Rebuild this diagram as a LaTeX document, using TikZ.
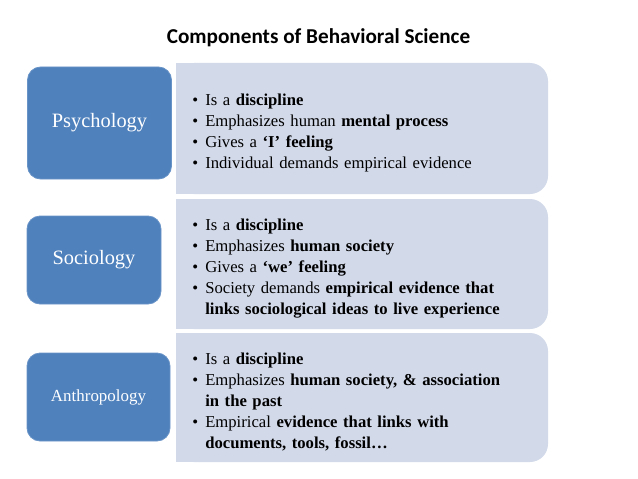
\documentclass[tikz,border=0pt]{standalone}
\usepackage{fontspec}
\setmainfont{Liberation Serif}
\newfontfamily\titlefont{Carlito}
\definecolor{fieldblue}{RGB}{79,129,189}
\definecolor{panelfill}{RGB}{210,217,233}
\tikzset{
  fieldbox/.style={fill=fieldblue, draw=fieldblue!85!white, line width=0.6pt,
    rounded corners=9.75pt, text=white, inner sep=0pt, align=center},
  panel/.style={fill=panelfill},
  pointlist/.style={anchor=west, inner sep=0pt, text width=255pt,
    font=\fontsize{12.5pt}{15.75pt}\selectfont}
}
\newcommand{\bitem}[1]{\par\noindent\hangindent=9.75pt\hangafter=1\makebox[9.75pt][l]{\textbullet}#1}
\newcommand{\brk}{\hfill\break}

\begin{document}
\begin{tikzpicture}[x=0.75pt,y=0.75pt,yscale=-1,xscale=1]
    \useasboundingbox (0,0) rectangle (638,478);

    % Title
    \node (title) at (318.5,38) [font=\titlefont\bfseries\fontsize{15.9pt}{18pt}\selectfont] {Components of Behavioral Science};

    %Shape: Panels, rounded on the right only
    \fill[panel, rounded corners=13.5pt] (176,63) rectangle (548,194);
    \fill[panel] (176,63) rectangle (300,194);
    \fill[panel, rounded corners=13.5pt] (176,199) rectangle (548,329);
    \fill[panel] (176,199) rectangle (300,329);
    \fill[panel, rounded corners=13.5pt] (176,333) rectangle (548,462);
    \fill[panel] (176,333) rectangle (300,462);

    %Shape: Field boxes
    \node (psy) at (99.5,123) [fieldbox, minimum width=108pt, minimum height=84pt, font=\fontsize{15.3pt}{18pt}\selectfont] {Psychology};
    \node (soc) at (94,260) [fieldbox, minimum width=100.5pt, minimum height=66pt, font=\fontsize{15.3pt}{18pt}\selectfont] {Sociology};
    \node (ant) at (98.5,397) [fieldbox, minimum width=107.25pt, minimum height=66pt, font=\fontsize{12.7pt}{15pt}\selectfont] {Anthropology};

    % Text Node
    \node (psypts) at (192,128.5) [pointlist] {\raggedright
      \bitem{Is a \textbf{discipline}}
      \bitem{Emphasizes human \textbf{mental process}}
      \bitem{Gives a \textbf{‘I’ feeling}}
      \bitem{Individual demands empirical evidence}\par};
    % Text Node
    \node (socpts) at (192,264) [pointlist] {\raggedright
      \bitem{Is a \textbf{discipline}}
      \bitem{Emphasizes \textbf{human society}}
      \bitem{Gives a \textbf{‘we’ feeling}}
      \bitem{Society demands \textbf{empirical evidence that}\brk\textbf{links sociological ideas to live experience}}\par};
    % Text Node
    \node (antpts) at (192,397.5) [pointlist] {\raggedright
      \bitem{Is a \textbf{discipline}}
      \bitem{Emphasizes \textbf{human society, \& association}\brk\textbf{in the past}}
      \bitem{Empirical \textbf{evidence that links with}\brk\textbf{documents, tools, fossil…}}\par};

\end{tikzpicture}
\end{document}
